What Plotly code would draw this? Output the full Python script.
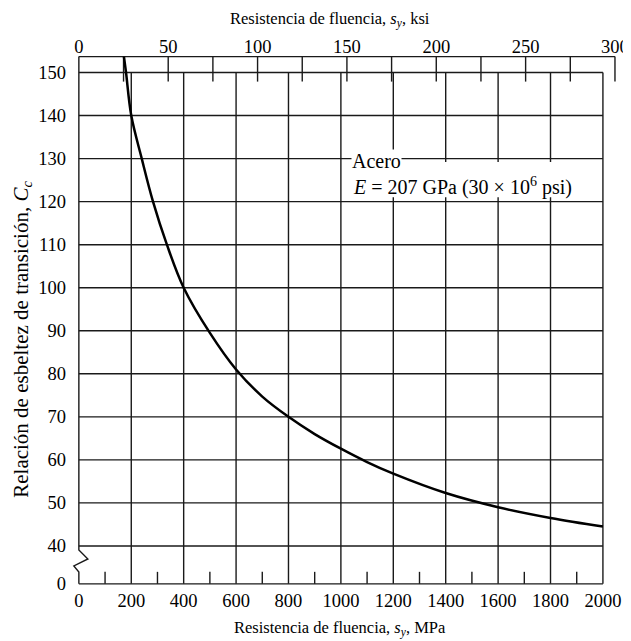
import plotly.graph_objects as go

# ---- data ----
yield_mpa = [172, 180, 200, 240, 283, 336, 400, 500, 600, 700, 800, 900,
             1000, 1100, 1200, 1400, 1600, 1800, 2000]
cc_values = [153.7, 150, 140, 130, 120, 110, 100, 89.5, 81, 74.7, 70, 66,
             62.6, 59.5, 56.8, 52.3, 49, 46.5, 44.5]

x_ticks_mpa = [0, 200, 400, 600, 800, 1000, 1200, 1400, 1600, 1800, 2000]
x_minor_mpa = [100, 300, 500, 700, 900, 1100, 1300, 1500, 1700, 1900]
ksi_labels = [0, 50, 100, 150, 200, 250, 300]
ksi_ticks = [25, 50, 75, 100, 125, 150, 175, 200, 225, 250, 275, 300]
y_grid = [40, 50, 60, 70, 80, 90, 100, 110, 120, 130, 140, 150]
y_tick_text = ["0"] + [str(v) for v in y_grid]

# ---- layout constants ----
ZERO_POS = 31.2      # axis position where the broken axis shows "0"
TOP_POS = 153.7      # top (ksi) axis line
KSI_SCALE = 6.82     # MPa per ksi as drawn on the chart
X_RANGE = [-30, 2069]
Y_RANGE = [30, 155]
PX_X = 550 / (X_RANGE[1] - X_RANGE[0])
PX_Y = 538 / (Y_RANGE[1] - Y_RANGE[0])
LC = "#1a1a1a"
LW = 1.4
FONT = "Liberation Serif"

fig = go.Figure()
fig.add_trace(go.Scatter(x=yield_mpa, y=cc_values, mode="lines",
                         line=dict(color="black", width=2.5, shape="spline"),
                         hoverinfo="skip", showlegend=False))
# invisible trace on top axis
fig.add_trace(go.Scatter(x=[0, 300], y=[None, None], xaxis="x2", yaxis="y",
                         showlegend=False, hoverinfo="skip"))

shapes = []
def seg(x0, y0, x1, y1, w=LW):
    shapes.append(dict(type="line", xref="x", yref="y", x0=x0, y0=y0, x1=x1, y1=y1,
                       line=dict(color=LC, width=w), layer="below"))

xmax = x_ticks_mpa[-1]
for v in y_grid:
    seg(0, v, xmax, v)
for xv in x_ticks_mpa[1:]:
    seg(xv, ZERO_POS, xv, y_grid[-1])
seg(0, ZERO_POS, xmax, ZERO_POS)
for xv in x_minor_mpa:
    seg(xv, ZERO_POS, xv, ZERO_POS + 12 / PX_Y)
# top ksi axis
seg(0, TOP_POS, ksi_labels[-1] * KSI_SCALE, TOP_POS)
for k in ksi_ticks:
    seg(k * KSI_SCALE, TOP_POS, k * KSI_SCALE, TOP_POS - 25 / PX_Y)
# left border with break symbol
dx = 1 / PX_X
dy = 1 / PX_Y
path = (f"M 0,{TOP_POS} L 0,{40 - 4*dy} "
        f"Q {2*dx},{40 - 6*dy} {9*dx},{40 - 13*dy} "
        f"L {-5*dx},{40 - 20*dy} L 0,{40 - 26*dy} L 0,{ZERO_POS}")
shapes.append(dict(type="path", xref="x", yref="y", path=path,
                   line=dict(color=LC, width=LW), layer="below"))
# white box behind annotation
shapes.append(dict(type="rect", xref="x", yref="y", x0=1012, x1=1993,
                   y0=121.0, y1=129.2, fillcolor="white", line=dict(width=0),
                   layer="below"))

annotations = [
    dict(text="Acero", x=1040, y=129.4, xref="x", yref="y", xanchor="left",
         yanchor="middle", showarrow=False, bgcolor="white", borderpad=0,
         font=dict(family=FONT, size=20, color="black")),
    dict(text="<i>E</i> = 207 GPa (30 × 10<sup>6</sup> psi)", x=1040, y=123.6,
         xref="x", yref="y", xanchor="left", yanchor="middle", showarrow=False,
         font=dict(family=FONT, size=20, color="black")),
    dict(text="Resistencia de fluencia, <i>s<sub>y</sub></i>, ksi", x=0.471, y=1.0585,
         xref="paper", yref="paper", showarrow=False, xanchor="center", yanchor="middle",
         font=dict(family=FONT, size=16.5, color="black")),
    dict(text="Resistencia de fluencia, <i>s<sub>y</sub></i>, MPa", x=0.489, y=-0.0725,
         xref="paper", yref="paper", showarrow=False, xanchor="center", yanchor="middle",
         font=dict(family=FONT, size=16.5, color="black")),
    dict(text="Relación de esbeltez de transición, <i>C<sub>c</sub></i>", x=-0.0895, y=0.4647,
         xref="paper", yref="paper", showarrow=False, xanchor="center", yanchor="middle",
         textangle=-90, font=dict(family=FONT, size=21, color="black")),
]

tickfont = dict(family=FONT, size=18.5, color="black")
common = dict(showgrid=False, zeroline=False, showline=False, ticks="",
              tickfont=tickfont, automargin=False)
fig.update_layout(
    template="none",
    width=623, height=633,
    margin=dict(l=63, r=10, t=43, b=52, autoexpand=False),
    paper_bgcolor="white", plot_bgcolor="white",
    shapes=shapes, annotations=annotations,
    xaxis=dict(range=X_RANGE, tickvals=x_ticks_mpa, ticktext=[str(v) for v in x_ticks_mpa],
               ticklabelstandoff=-2, **common),
    xaxis2=dict(range=[X_RANGE[0] / KSI_SCALE, X_RANGE[1] / KSI_SCALE], overlaying="x",
                side="top", anchor="y", tickvals=ksi_labels,
                ticktext=[str(v) for v in ksi_labels], ticklabelstandoff=-7,
                ticklabeloverflow="allow", **common),
    yaxis=dict(range=Y_RANGE, tickvals=[ZERO_POS] + y_grid, ticktext=y_tick_text,
               ticklabelstandoff=4, **common),
)

fig.write_html("out.html")
